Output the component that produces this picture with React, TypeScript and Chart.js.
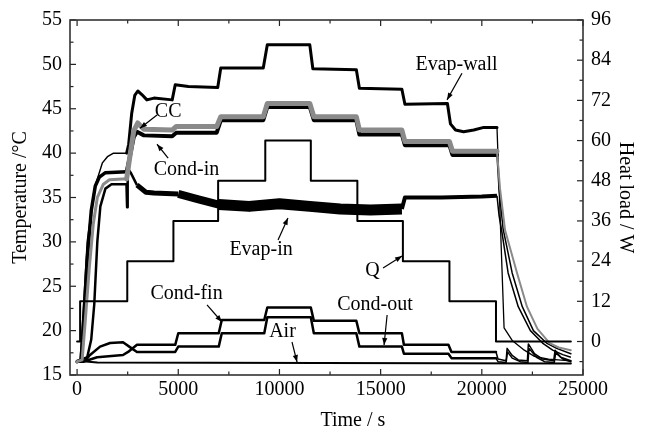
import React, { useEffect, useRef } from "react";
import { Chart, registerables } from "chart.js";

Chart.register(...registerables);

const FONT_FAMILY = "'Liberation Serif', 'Times New Roman', Times, serif";

// Tick labels
const timeTicks = [0, 5000, 10000, 15000, 20000, 25000];
const tempTicks = [15, 20, 25, 30, 35, 40, 45, 50, 55];
const loadTicks = [0, 12, 24, 36, 48, 60, 72, 84, 96];

// Evap-wall
const evapWallTime = [0, 150, 250, 400, 500, 850, 1250, 1500, 1800, 2450, 2550, 2700, 2850, 3000, 3200, 3450, 3800, 4700, 4850, 5500, 6950, 7100, 9200, 9400, 11500, 11650, 13800, 13950, 16050, 16200, 18300, 18450, 18700, 19100, 19600, 20100, 20750, 21100, 21500, 22100, 22600, 23300, 24400];
const evapWallTemp = [16.5, 16.6, 20, 26, 30, 36, 38.9, 39.6, 40, 40, 41, 44.5, 46.5, 47, 46.6, 46, 46.2, 46, 47.7, 47.5, 47.4, 49.6, 49.6, 52.2, 52.2, 49.5, 49.4, 47.3, 47.2, 45.5, 45.6, 43.3, 42.6, 42.4, 42.6, 42.9, 42.9, 20.3, 18.9, 17.8, 17.1, 16.8, 16.6];

// CC (grey)
const ccTime = [0, 250, 400, 600, 800, 1000, 1300, 1600, 2450, 2600, 2800, 3000, 3300, 4700, 4900, 6900, 7100, 9200, 9400, 11500, 11700, 13800, 13950, 16050, 16200, 18400, 18550, 20750, 20900, 21150, 21740, 22230, 22750, 23350, 23800, 24400];
const ccTemp = [16.5, 16.7, 21, 27, 32, 35, 36.5, 37, 37.1, 39.5, 42.5, 43.4, 42.7, 42.6, 43.0, 43.0, 44.1, 44.1, 45.6, 45.6, 44.1, 44.1, 42.6, 42.6, 41.3, 41.3, 40.2, 40.2, 36, 31.3, 26.5, 22.7, 20.2, 18.6, 18.1, 17.8];

// Cond-in
const condInTime = [0, 200, 350, 500, 700, 900, 1100, 1400, 2450, 2600, 2800, 2960, 3300, 4700, 4900, 6900, 7100, 9200, 9400, 11500, 11700, 13800, 13950, 16050, 16200, 18400, 18550, 20750, 20850, 21050, 21500, 22000, 22550, 23200, 23700, 24400];
const condInTemp = [16.5, 16.7, 22, 28, 33.5, 36.3, 37.3, 37.8, 37.9, 39.5, 41.8, 42.4, 42.0, 41.9, 42.3, 42.3, 43.7, 43.7, 45.2, 45.2, 43.7, 43.7, 42.1, 42.1, 40.9, 40.9, 39.8, 39.8, 36, 31.5, 26.5, 22.7, 20, 18.6, 18, 17.4];

// Evap-in
const evapInTime = [0, 500, 700, 850, 1000, 1150, 1400, 1700, 2440, 2470, 2500, 2650, 2960, 3400, 3800, 5000, 6000, 7000, 8500, 10000, 11500, 13000, 14500, 16050, 16200, 18000, 20000, 20750, 20850, 21000, 21300, 21800, 22400, 23000, 23500, 24000, 24400];
const evapInTemp = [16.5, 17, 19, 23, 30, 34, 36, 36.5, 36.5, 33.9, 38.3, 37.8, 36.4, 35.6, 35.5, 35.4, 34.8, 34.2, 34.0, 34.3, 34.0, 33.7, 33.6, 33.7, 35.0, 35.0, 35.1, 35.2, 33, 31, 26.5, 22.7, 20, 18.6, 17.8, 17.3, 17.0];

// Cond-fin
const condFinTime = [0, 300, 990, 2270, 2520, 2960, 4850, 5000, 7000, 7150, 9250, 9400, 11550, 11700, 13800, 13950, 16050, 16150, 18350, 18500, 20700, 20800, 21200, 21250, 21500, 21800, 22250, 22300, 22600, 23000, 23550, 23620, 23900, 24400];
const condFinTemp = [16.5, 16.5, 17.0, 17.25, 17.6, 18.4, 18.4, 19.7, 19.7, 21.2, 21.2, 22.6, 22.6, 21.1, 21.1, 19.7, 19.7, 18.4, 18.4, 17.6, 17.6, 16.8, 16.6, 18.0, 17.2, 16.7, 16.6, 18.5, 17.4, 16.8, 16.6, 17.8, 17.0, 16.6];

// Cond-out
const condOutTime = [0, 400, 640, 1136, 1630, 2270, 2700, 2960, 4850, 5000, 7000, 7150, 9250, 9400, 11550, 11700, 13800, 13950, 16050, 16150, 18350, 18500, 20700, 20800, 21200, 21270, 21500, 21900, 22280, 22330, 22700, 23100, 23580, 23650, 24000, 24400];
const condOutTemp = [16.5, 16.6, 17.25, 18.2, 18.6, 18.7, 18.0, 17.6, 17.6, 18.2, 18.2, 19.7, 19.7, 21.5, 21.5, 19.7, 19.7, 18.2, 18.2, 17.4, 17.4, 16.9, 16.9, 16.5, 16.4, 17.6, 16.9, 16.5, 16.4, 18.0, 17.0, 16.5, 16.4, 17.5, 16.8, 16.5];

// Air
const airTime = [0, 1000, 12000, 24400];
const airTemp = [16.6, 16.4, 16.35, 16.3];

// Heat load Q (W)
const qTime = [0, 150, 2480, 4760, 6970, 9300, 11550, 13850, 16100, 18400, 20700, 24400];
const qLoad = [0, 12, 24, 36, 48, 60, 48, 36, 24, 12, 0, 0];

// Annotation labels (data coordinates: time, temperature)
const noteText = ["Evap-wall", "CC", "Cond-in", "Evap-in", "Q", "Cond-fin", "Cond-out", "Air"];
const noteAt = [[18750, 50.0], [4500, 44.7], [5410, 38.1], [9090, 29.1], [14600, 26.8], [5410, 24.1], [14720, 22.9], [10150, 19.9]];
const arrowFrom = [[19020, 49.0], [3950, 44.3], [4500, 39.45], [9930, 30.2], [15120, 27.06], [6420, 22.9], [15320, 21.76], [10620, 18.72]];
const arrowTo = [[18280, 46.0], [3110, 42.8], [3950, 41.0], [10420, 32.7], [16060, 28.4], [7160, 20.97], [15170, 18.38], [10870, 16.46]];

const pts = (xs: number[], ys: number[]) => xs.map((x, i) => ({ x, y: ys[i] }));

const widthBy = (breaks: number[], widths: number[]) => (c: any) => {
  const t = c.p0.parsed.x;
  for (let i = 0; i < breaks.length; i++) if (t < breaks[i]) return widths[i];
  return widths[widths.length - 1];
};

const decorPlugin = {
  id: "decor",
  afterDraw(chart: any) {
    const { ctx, chartArea: a, scales } = chart;
    const sx = scales.x, sy = scales.y, sq = scales.q;
    ctx.save();
    ctx.strokeStyle = "#222";
    ctx.lineWidth = 1.2;
    const seg = (x1: number, y1: number, x2: number, y2: number) => {
      ctx.beginPath();
      ctx.moveTo(x1, y1);
      ctx.lineTo(x2, y2);
      ctx.stroke();
    };
    // time ticks (bottom & top, inward)
    const tStep = (timeTicks[1] - timeTicks[0]) / 2;
    for (let v = timeTicks[0], k = 0; v <= timeTicks[timeTicks.length - 1]; v += tStep, k++) {
      const p = sx.getPixelForValue(v);
      const L = k % 2 === 0 ? 6 : 3.5;
      seg(p, a.bottom, p, a.bottom - L);
      seg(p, a.top, p, a.top + L);
    }
    // temperature ticks (left)
    const yStep = (tempTicks[1] - tempTicks[0]) / 2;
    for (let v = tempTicks[0], k = 0; v <= tempTicks[tempTicks.length - 1] + 1e-9; v += yStep, k++) {
      const p = sy.getPixelForValue(v);
      const L = k % 2 === 0 ? 6 : 3.5;
      seg(a.left, p, a.left + L, p);
    }
    // load ticks (right)
    const qStep = (loadTicks[1] - loadTicks[0]) / 2;
    for (let v = loadTicks[0] - qStep, k = 1; v <= loadTicks[loadTicks.length - 1] + 1e-9; v += qStep, k++) {
      if (v < sq.min) continue;
      const p = sq.getPixelForValue(v);
      const L = k % 2 === 0 ? 6 : 3.5;
      seg(a.right, p, a.right - L, p);
    }
    // frame
    ctx.lineWidth = 1.6;
    ctx.strokeStyle = "#333";
    ctx.strokeRect(a.left, a.top, a.right - a.left, a.bottom - a.top);

    // annotations
    ctx.fillStyle = "#000";
    ctx.strokeStyle = "#000";
    ctx.font = `20px ${FONT_FAMILY}`;
    ctx.textAlign = "center";
    ctx.textBaseline = "middle";
    noteText.forEach((txt, i) => {
      ctx.fillText(txt, sx.getPixelForValue(noteAt[i][0]), sy.getPixelForValue(noteAt[i][1]));
      const x1 = sx.getPixelForValue(arrowFrom[i][0]);
      const y1 = sy.getPixelForValue(arrowFrom[i][1]);
      const x2 = sx.getPixelForValue(arrowTo[i][0]);
      const y2 = sy.getPixelForValue(arrowTo[i][1]);
      ctx.lineWidth = 1.2;
      seg(x1, y1, x2, y2);
      const ang = Math.atan2(y2 - y1, x2 - x1);
      const hl = 7, hw = 2.6;
      ctx.beginPath();
      ctx.moveTo(x2, y2);
      ctx.lineTo(x2 - hl * Math.cos(ang) + hw * Math.sin(ang), y2 - hl * Math.sin(ang) - hw * Math.cos(ang));
      ctx.lineTo(x2 - hl * Math.cos(ang) - hw * Math.sin(ang), y2 - hl * Math.sin(ang) + hw * Math.cos(ang));
      ctx.closePath();
      ctx.fill();
    });
    // x-axis title
    ctx.fillText("Time / s", sx.getPixelForValue(13630), a.bottom + 46);
    ctx.restore();
  },
};

export default function App() {
  const ref = useRef<HTMLCanvasElement | null>(null);

  useEffect(() => {
    if (!ref.current) return;
    const tickFont = { family: FONT_FAMILY, size: 20 };
    const chart = new Chart(ref.current, {
      type: "line",
      data: {
        datasets: [
          {
            label: "CC",
            data: pts(ccTime, ccTemp),
            borderColor: "#8a8a8a",
            yAxisID: "y",
            order: 1,
            segment: { borderWidth: widthBy([2400, 20750], [3, 5, 2]) },
          },
          {
            label: "Cond-in",
            data: pts(condInTime, condInTemp),
            borderColor: "#000",
            yAxisID: "y",
            order: 2,
            segment: { borderWidth: widthBy([2400, 20750], [3.5, 4, 1.5]) },
          },
          {
            label: "Evap-wall",
            data: pts(evapWallTime, evapWallTemp),
            borderColor: "#000",
            yAxisID: "y",
            order: 3,
            segment: { borderWidth: widthBy([2450, 20750], [1.5, 3, 1.3]) },
          },
          {
            label: "Evap-in",
            data: pts(evapInTime, evapInTemp),
            borderColor: "#000",
            yAxisID: "y",
            order: 4,
            borderCapStyle: "butt",
            segment: { borderWidth: widthBy([2900, 5000, 7000, 16000, 20750], [2.5, 5, 8, 11, 4, 1.5]) },
          },
          {
            label: "Cond-fin",
            data: pts(condFinTime, condFinTemp),
            borderColor: "#000",
            yAxisID: "y",
            order: 5,
            segment: { borderWidth: widthBy([20700], [2.5, 1.5]) },
          },
          {
            label: "Cond-out",
            data: pts(condOutTime, condOutTemp),
            borderColor: "#000",
            yAxisID: "y",
            order: 6,
            segment: { borderWidth: widthBy([20700], [2.5, 1.5]) },
          },
          {
            label: "Air",
            data: pts(airTime, airTemp),
            borderColor: "#000",
            borderWidth: 2,
            yAxisID: "y",
            order: 7,
          },
          {
            label: "Q",
            data: pts(qTime, qLoad),
            borderColor: "#000",
            borderWidth: 2,
            stepped: true,
            yAxisID: "q",
            order: 0,
          },
        ],
      },
      plugins: [decorPlugin],
      options: {
        animation: false,
        responsive: false,
        layout: { padding: { top: 20, left: 0, right: 0, bottom: 0 } },
        plugins: { legend: { display: false }, tooltip: { enabled: false } },
        elements: {
          point: { radius: 0 },
          line: { tension: 0, borderJoinStyle: "round", borderCapStyle: "round", fill: false },
        },
        scales: {
          x: {
            type: "linear",
            position: "bottom",
            min: -350,
            max: 25000,
            afterBuildTicks: (s: any) => {
              s.ticks = timeTicks.map((v) => ({ value: v }));
            },
            afterFit: (s: any) => {
              s.height = 60;
            },
            grid: { display: false, drawTicks: false },
            border: { display: false },
            ticks: {
              padding: 3,
              color: "#000",
              font: tickFont,
              maxRotation: 0,
              autoSkip: false,
              callback: (v: any) => String(v),
            },
          },
          y: {
            type: "linear",
            position: "left",
            min: 15,
            max: 55,
            afterBuildTicks: (s: any) => {
              s.ticks = tempTicks.map((v) => ({ value: v }));
            },
            afterFit: (s: any) => {
              s.width = 70;
            },
            grid: { display: false, drawTicks: false },
            border: { display: false },
            ticks: { padding: 8, color: "#000", font: tickFont, callback: (v: any) => String(v) },
            title: {
              display: true,
              text: "Temperature /°C",
              color: "#000",
              font: { family: FONT_FAMILY, size: 20 },
              padding: { top: 9, bottom: 0 },
            },
          },
          q: {
            type: "linear",
            position: "right",
            min: -10,
            max: 96,
            afterBuildTicks: (s: any) => {
              s.ticks = loadTicks.map((v) => ({ value: v }));
            },
            afterFit: (s: any) => {
              s.width = 62;
            },
            grid: { display: false, drawTicks: false },
            border: { display: false },
            ticks: { padding: 8, color: "#000", font: tickFont, callback: (v: any) => String(v) },
            title: {
              display: true,
              text: "Heat load / W",
              color: "#000",
              font: { family: FONT_FAMILY, size: 20 },
              padding: { top: 8, bottom: 0 },
            },
          },
        },
      },
    } as any);
    return () => chart.destroy();
  }, []);

  return (
    <div style={{ position: "fixed", left: 0, top: 0, width: 645, height: 435, background: "#fff" }}>
      <canvas ref={ref} width={645} height={435} style={{ display: "block" }} />
    </div>
  );
}
